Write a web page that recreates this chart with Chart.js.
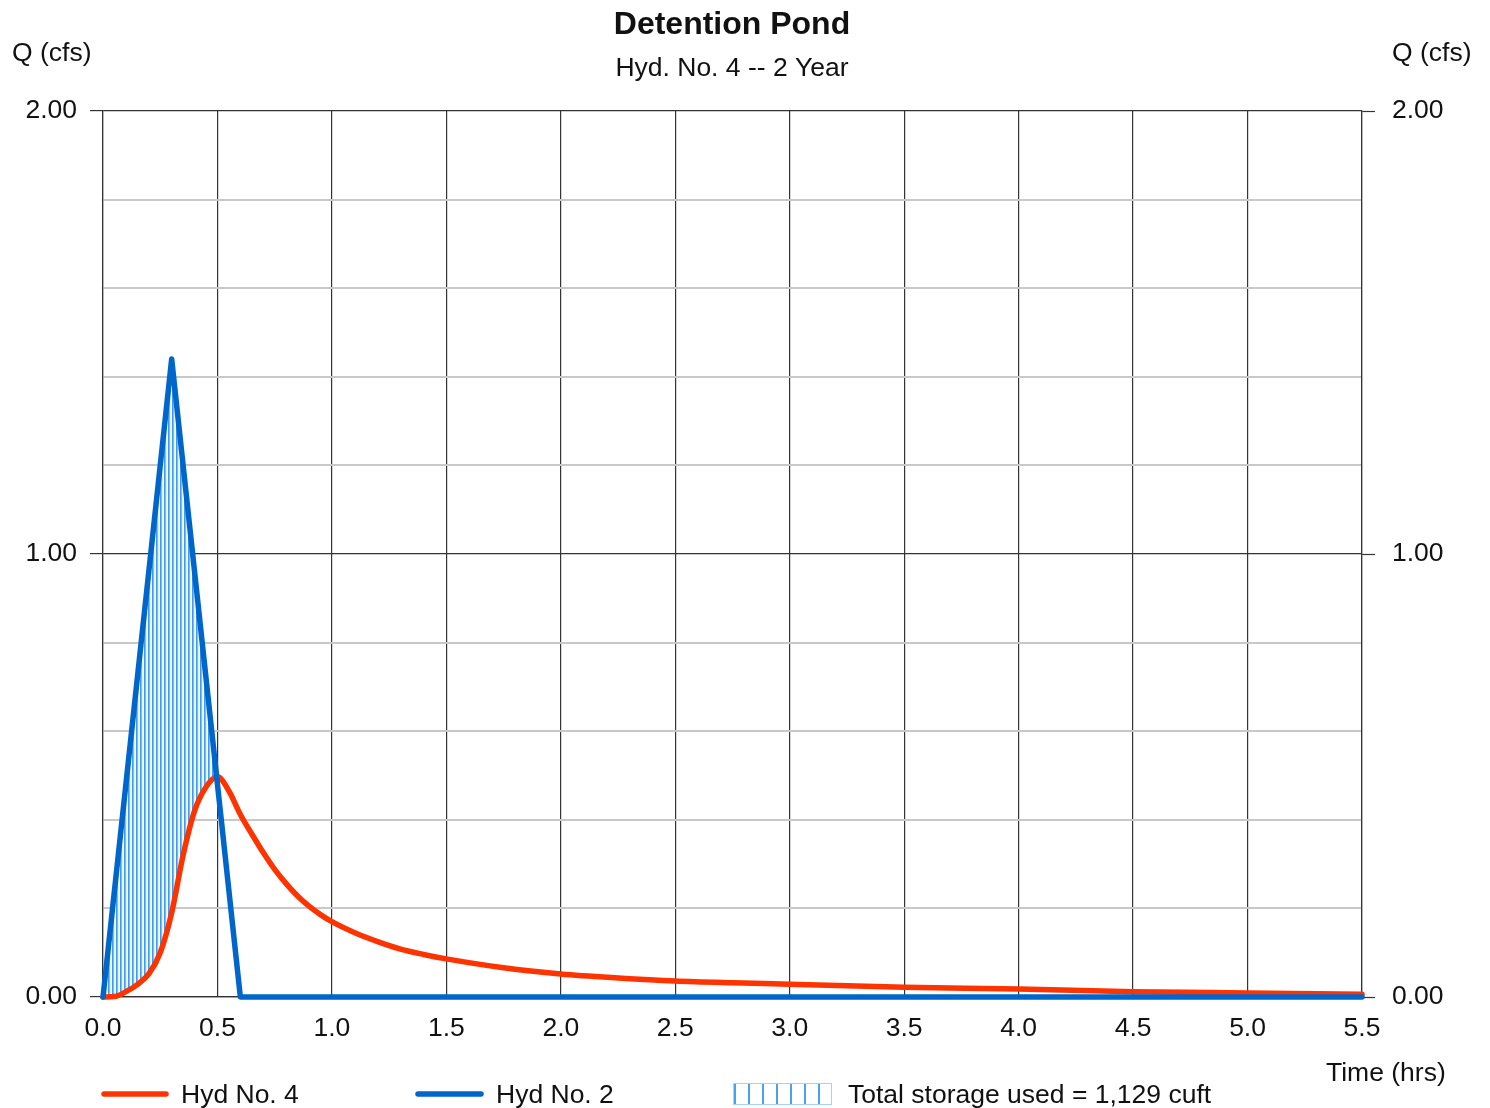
<!DOCTYPE html>
<html lang="en">
<head>
    <meta charset="UTF-8" />
    <title>Detention Pond</title>
    <style>
        body { margin: 0; background: #fff; }
        #chartCanvas { display: block; }
    </style>
</head>
<body>
    <canvas id="chartCanvas" width="1490" height="1108"></canvas>

    <script src="https://cdn.jsdelivr.net/npm/chart.js"></script>
    <script>
        // Hyd No. 2 (inflow hydrograph)
        const inflowTime = [0, 0.3, 0.6, 5.5];
        const inflowQ = [0, 1.44, 0, 0];

        // Hyd No. 4 (pond outflow)
        const outflowTime = [0, 0.05, 0.10, 0.15, 0.20, 0.25, 0.30, 0.35, 0.40, 0.45, 0.50, 0.55, 0.60, 0.65, 0.70,
            0.75, 0.80, 0.85, 0.90, 0.95, 1.0, 1.1, 1.2, 1.3, 1.4, 1.5, 1.75, 2.0, 2.25, 2.5, 2.75, 3.0, 3.5,
            4.0, 4.5, 5.0, 5.5];
        const outflowQ = [0, 0.001, 0.012, 0.028, 0.052, 0.1, 0.19, 0.32, 0.42, 0.474, 0.497, 0.465, 0.412, 0.368, 0.326,
            0.288, 0.256, 0.228, 0.205, 0.186, 0.17, 0.145, 0.125, 0.108, 0.096, 0.086, 0.066, 0.052, 0.043, 0.036, 0.032, 0.029, 0.022,
            0.018, 0.012, 0.009, 0.006];

        const xTicks = [0, 0.5, 1.0, 1.5, 2.0, 2.5, 3.0, 3.5, 4.0, 4.5, 5.0, 5.5];
        const yLabelValues = [0, 1, 2];

        const chartTitle = 'Detention Pond';
        const chartSubtitle = 'Hyd. No. 4 -- 2 Year';
        const legendLabels = ['Hyd No. 4', 'Hyd No. 2', 'Total storage used = 1,129 cuft'];

        const FONT = '"Liberation Sans", Arial, sans-serif';
        const RED = '#ff3300';
        const BLUE = '#0066cc';

        function toPoints(xs, ys) {
            return xs.map((x, i) => ({ x: x, y: ys[i] }));
        }

        function isMajor(v) {
            return yLabelValues.some(m => Math.abs(m - v) < 1e-6);
        }

        // vertical hatch used for the storage area
        function makeHatch() {
            const c = document.createElement('canvas');
            c.width = 4;
            c.height = 4;
            const g = c.getContext('2d');
            const cols = ['#3d9be9', '#7dbdf0', '#e3f0fb', '#ffffff'];
            cols.forEach((col, i) => {
                g.fillStyle = col;
                g.fillRect(i, 0, 1, 4);
            });
            return g.createPattern(c, 'repeat');
        }

        // titles, axis captions and the legend row
        const textPlugin = {
            id: 'textPlugin',
            afterDraw(chart) {
                const ctx = chart.ctx;
                ctx.save();
                ctx.fillStyle = '#111';
                ctx.textBaseline = 'middle';

                ctx.textAlign = 'center';
                ctx.font = 'bold 32px ' + FONT;
                ctx.fillText(chartTitle, 732, 25);
                ctx.font = '26.5px ' + FONT;
                ctx.fillText(chartSubtitle, 732, 69);

                ctx.textAlign = 'left';
                ctx.font = '26.5px ' + FONT;
                ctx.fillText('Q (cfs)', 12, 54);
                ctx.fillText('Q (cfs)', 1392, 54);
                ctx.fillText('Time (hrs)', 1326, 1074);

                // legend
                ctx.lineCap = 'round';
                ctx.lineWidth = 5.5;
                ctx.strokeStyle = RED;
                ctx.beginPath();
                ctx.moveTo(104, 1094);
                ctx.lineTo(166, 1094);
                ctx.stroke();
                ctx.strokeStyle = BLUE;
                ctx.beginPath();
                ctx.moveTo(418, 1094);
                ctx.lineTo(481, 1094);
                ctx.stroke();

                ctx.lineCap = 'butt';
                ctx.lineWidth = 1;
                ctx.strokeStyle = '#a8d2f5';
                ctx.strokeRect(733.5, 1083.5, 98, 21);
                ctx.lineWidth = 2;
                ctx.strokeStyle = '#4aa3ea';
                for (let x = 735; x < 832; x += 14) {
                    ctx.beginPath();
                    ctx.moveTo(x, 1084);
                    ctx.lineTo(x, 1104);
                    ctx.stroke();
                }

                ctx.fillStyle = '#111';
                ctx.fillText(legendLabels[0], 181, 1096);
                ctx.fillText(legendLabels[1], 496, 1096);
                ctx.fillText(legendLabels[2], 848, 1096);
                ctx.restore();
            }
        };

        const ctx = document.getElementById('chartCanvas').getContext('2d');

        new Chart(ctx, {
            type: 'line',
            data: {
                datasets: [{
                    label: legendLabels[1],
                    data: toPoints(inflowTime, inflowQ),
                    borderColor: BLUE,
                    borderWidth: 5.5,
                    borderJoinStyle: 'round',
                    borderCapStyle: 'round',
                    pointRadius: 0,
                    tension: 0,
                    clip: false,
                    fill: { target: 1, above: makeHatch(), below: 'rgba(0,0,0,0)' }
                }, {
                    label: legendLabels[0],
                    data: toPoints(outflowTime, outflowQ),
                    borderColor: RED,
                    borderWidth: 5.5,
                    borderCapStyle: 'round',
                    borderJoinStyle: 'round',
                    pointRadius: 0,
                    cubicInterpolationMode: 'monotone',
                    clip: false,
                    fill: false
                }]
            },
            options: {
                responsive: false,
                animation: false,
                layout: { padding: { top: 111, left: 0, right: 0, bottom: 0 } },
                plugins: {
                    legend: { display: false },
                    tooltip: { enabled: false },
                    filler: { drawTime: 'beforeDatasetsDraw' }
                },
                scales: {
                    x: {
                        type: 'linear',
                        min: 0,
                        max: 5.5,
                        afterFit: s => { s.height = 111; },
                        afterBuildTicks: s => { s.ticks = xTicks.map(v => ({ value: v })); },
                        grid: { color: '#333', lineWidth: 1.2, drawTicks: false },
                        border: { color: '#333', width: 1.2 },
                        ticks: {
                            padding: 16,
                            color: '#111',
                            font: { family: FONT, size: 26.5 },
                            maxRotation: 0,
                            callback: v => Number(v).toFixed(1)
                        }
                    },
                    y: {
                        position: 'left',
                        min: 0,
                        max: 2,
                        afterFit: s => { s.width = 103; },
                        ticks: {
                            stepSize: 0.2,
                            padding: 13,
                            color: '#111',
                            font: { family: FONT, size: 26.5 },
                            callback: v => isMajor(v) ? Number(v).toFixed(2) : ''
                        },
                        grid: {
                            tickLength: 13,
                            color: c => isMajor(c.tick.value) ? '#333' : '#c8c8c8',
                            lineWidth: c => isMajor(c.tick.value) ? 1.2 : 2,
                            tickColor: c => isMajor(c.tick.value) ? '#333' : 'rgba(0,0,0,0)',
                            tickWidth: 1.2
                        },
                        border: { color: '#333', width: 1.2 }
                    },
                    y2: {
                        position: 'right',
                        min: 0,
                        max: 2,
                        afterFit: s => { s.width = 128; },
                        ticks: {
                            stepSize: 0.2,
                            padding: 17,
                            color: '#111',
                            font: { family: FONT, size: 26.5 },
                            callback: v => isMajor(v) ? Number(v).toFixed(2) : ''
                        },
                        grid: {
                            drawOnChartArea: false,
                            tickLength: 13,
                            tickColor: c => isMajor(c.tick.value) ? '#333' : 'rgba(0,0,0,0)',
                            tickWidth: 1.2
                        },
                        border: { color: '#333', width: 1.2 }
                    }
                }
            },
            plugins: [textPlugin]
        });
    </script>
</body>
</html>
